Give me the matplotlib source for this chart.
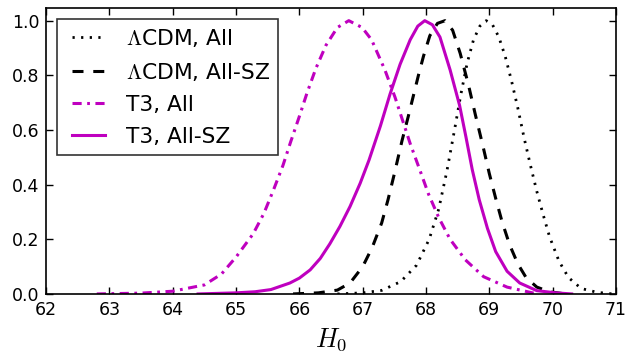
import matplotlib
matplotlib.use("Agg")
import matplotlib.pyplot as plt
from matplotlib.legend_handler import HandlerLine2D

# ---- data ----
lcdm_all_x = [66.6, 67.0, 67.3, 67.6, 67.85, 68.05, 68.2, 68.33, 68.45, 68.55, 68.65, 68.75,
              68.85, 68.95, 69.05, 69.15, 69.25, 69.35, 69.45, 69.55, 69.65, 69.75, 69.85,
              69.95, 70.1, 70.25, 70.45, 70.7, 70.95]
lcdm_all_y = [0.0, 0.004, 0.013, 0.045, 0.105, 0.2, 0.31, 0.45, 0.6, 0.73, 0.845, 0.93,
              0.98, 1.0, 0.985, 0.94, 0.87, 0.78, 0.68, 0.57, 0.47, 0.375, 0.29,
              0.21, 0.12, 0.06, 0.02, 0.006, 0.0]

lcdm_sz_x = [65.9, 66.3, 66.6, 66.8, 67.0, 67.15, 67.3, 67.4, 67.5, 67.62, 67.72, 67.8, 67.88,
             67.96, 68.06, 68.18, 68.3, 68.42, 68.54, 68.67, 68.78, 68.9, 69.0, 69.1, 69.2,
             69.32, 69.45, 69.58, 69.75, 69.95, 70.2]
lcdm_sz_y = [0.0, 0.004, 0.014, 0.04, 0.1, 0.17, 0.26, 0.345, 0.44, 0.56, 0.65, 0.725, 0.80,
             0.87, 0.945, 0.99, 1.0, 0.965, 0.88, 0.765, 0.655, 0.54, 0.44, 0.35, 0.265,
             0.18, 0.11, 0.06, 0.025, 0.008, 0.0]

t3_all_x = [62.8, 63.5, 64.0, 64.5, 64.77, 65.0, 65.27, 65.44, 65.59, 65.74, 65.86, 66.0, 66.12,
            66.26, 66.42, 66.6, 66.78, 66.99, 67.14, 67.35, 67.51, 67.63, 67.75, 67.9, 68.04,
            68.2, 68.38, 68.62, 68.91, 69.28, 69.7]
t3_all_y = [0.0, 0.003, 0.01, 0.033, 0.073, 0.135, 0.22, 0.295, 0.38, 0.47, 0.555, 0.65, 0.735,
            0.825, 0.91, 0.975, 1.0, 0.975, 0.93, 0.82, 0.72, 0.635, 0.55, 0.455, 0.365,
            0.28, 0.2, 0.125, 0.063, 0.025, 0.003]

t3_sz_x = [64.4, 65.0, 65.3, 65.55, 65.85, 66.0, 66.17, 66.33, 66.48, 66.64, 66.8, 66.96, 67.1,
           67.28, 67.43, 67.59, 67.75, 67.87, 67.98, 68.1, 68.22, 68.38, 68.53, 68.63, 68.73,
           68.84, 68.97, 69.1, 69.28, 69.48, 69.75, 70.05, 70.3]
t3_sz_y = [0.0, 0.004, 0.008, 0.016, 0.04, 0.058, 0.088, 0.13, 0.183, 0.247, 0.32, 0.405, 0.49,
           0.615, 0.73, 0.84, 0.93, 0.98, 1.0, 0.985, 0.94, 0.82, 0.69, 0.575, 0.455,
           0.345, 0.24, 0.155, 0.083, 0.04, 0.012, 0.004, 0.0]

labels = [r'$\Lambda$CDM, All', r'$\Lambda$CDM, All-SZ', 'T3, All', 'T3, All-SZ']
xticks = [62, 63, 64, 65, 66, 67, 68, 69, 70, 71]
yticks = [0.0, 0.2, 0.4, 0.6, 0.8, 1.0]

plt.rcParams['mathtext.fontset'] = 'cm'
plt.rcParams['font.family'] = ['DejaVu Sans']

fig = plt.figure(figsize=(6.37, 3.55), dpi=100)
ax = fig.add_axes([0.0724, 0.172, 0.8946, 0.806])

mag = '#bf00bf'
ax.plot(lcdm_all_x, lcdm_all_y, color='k', ls=(0, (0.8, 2.3)), lw=2.0, label=labels[0])
ax.plot(lcdm_sz_x, lcdm_sz_y, color='k', ls=(0, (3.6, 3.2)), lw=2.2, label=labels[1])
ax.plot(t3_all_x, t3_all_y, color=mag, ls=(0, (3.0, 1.8, 0.9, 1.8)), lw=2.2, label=labels[2])
ax.plot(t3_sz_x, t3_sz_y, color=mag, ls='-', lw=2.2, label=labels[3])

ax.set_xlim(62, 71)
ax.set_ylim(0, 1.047)
ax.set_xticks(xticks)
ax.set_yticks(yticks)
ax.set_xticklabels([str(t) for t in xticks])
ax.set_yticklabels([f'{t:.1f}' for t in yticks])
ax.tick_params(direction='in', top=True, right=True, length=5, width=1.0,
               labelsize=12.5, pad=5)
for s in ax.spines.values():
    s.set_linewidth(1.2)

ax.set_xlabel(r'$H_0$', fontsize=19, labelpad=5)

fs = 15.7
leg = ax.legend(loc='upper left', bbox_to_anchor=(0.019, 0.962), borderaxespad=0,
                fontsize=fs, frameon=True, fancybox=False, handlelength=1.82,
                handletextpad=0.97, labelspacing=0.55, borderpad=0.37,
                handler_map={matplotlib.lines.Line2D: HandlerLine2D(xpad=0.3)})
leg.get_frame().set_edgecolor('k')
leg.get_frame().set_linewidth(1.2)

fig.savefig('out.png', dpi=100)
